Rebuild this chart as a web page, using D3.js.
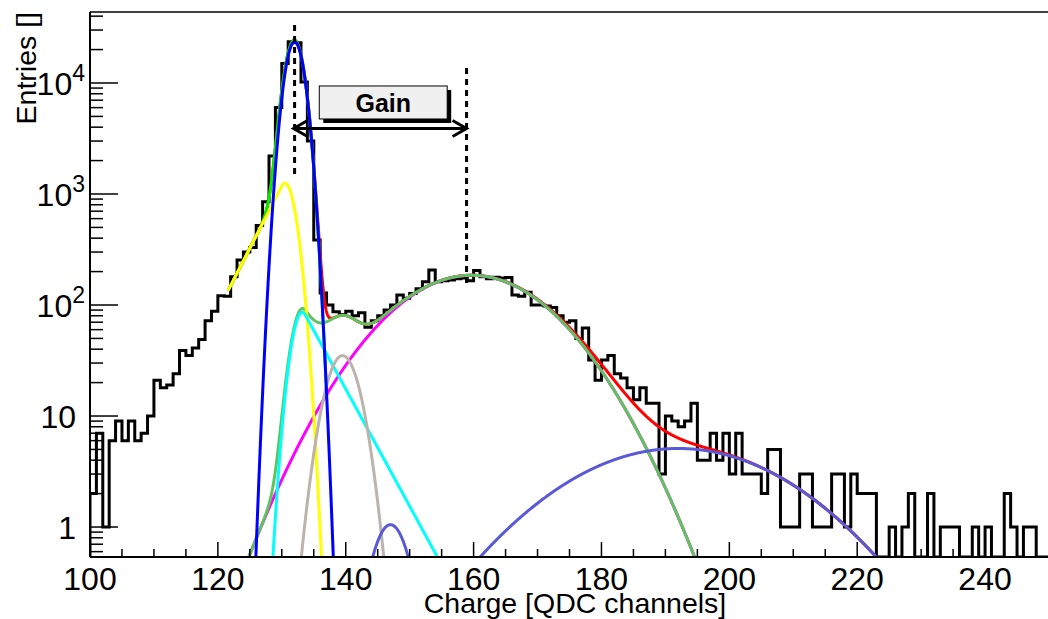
<!DOCTYPE html>
<html><head><meta charset="utf-8">
<script src="https://cdn.jsdelivr.net/npm/d3@7"></script>
<style>
body{margin:0;background:#fff}
svg{display:block}
text{font-family:"Liberation Sans",Arial,Helvetica,sans-serif}
</style>
</head><body>
<svg id="c" width="1048" height="619"></svg>
<script>
// ---- data ----
const binStart = 100;
const binWidth = 1;
const counts = [
 2,7,1,6,9,6,9,6,7,10,            // 100-109
 21,18,19,24,39,35,41,49,72,88,   // 110-119
 121,120,180,255,300,330,520,850,2200,6000, // 120-129
 15000,23500,23000,10200,3000,385,128,100,87,82, // 130-139
 88,80,85,63,72,80,90,100,123,115, // 140-149
 127,140,162,207,162,165,168,172,175,165, // 150-159
 205,180,172,178,175,177,123,120,130,100, // 160-169
 100,98,95,80,70,72,50,62,32,21,  // 170-179
 32,35,24,22,18,14,18,13,13,3,    // 180-189
 10,9,8,9,13,4,4,7,4,7,           // 190-199
 3,7,3,3,3,2,5,5,1,1,             // 200-209
 1,3,3,1,1,1,3,3,1,3,             // 210-219
 2,2,2,0,0,1,0,1,2,0,             // 220-229
 0,2,0,1,1,1,0,0,1,0,             // 230-239
 1,0,0,2,1,0,1,1,0,0              // 240-249
];
const xTickValues = [100,120,140,160,180,200,220,240];
const yTickValues = [1,10,100,1000,10000];
const yTickLabels = ["1","10","10|2","10|3","10|4"];
const xTitle = "Charge [QDC channels]";
const yTitle = "Entries []";
const boxLabel = "Gain";

// fit components (amplitude, mean, sigma, tail)
const pedestalFit = [23500, 132.0, 1.31];
const yellowFit   = [1250, 130.5, 1.45, 0.374];
const cyanFit     = [86, 133.2, 1.44, 0.35];
const grayFit     = [35, 139.5, 2.23];
const magentaFit  = [185, 159.7, 10.2];
const smallPeFit  = [1.05, 147.0, 2.4];
const twoPeFit    = [5.1, 192.0, 14.6];
const fitStart = 121.6;
const pedestalPeak = 132.0;
const onePePeak = 158.9;

// ---- layout ----
const W = 1048, H = 619;
const L = 90, R = 1049, T = 12, B = 557;
const svg = d3.select("#c");
const x = d3.scaleLinear().domain([100,250]).range([L,R]);
const y = d3.scaleLog().domain([0.537, 43600]).range([B,T]);

svg.append("defs").append("clipPath").attr("id","plot")
  .append("rect").attr("x",L).attr("y",T).attr("width",R-L).attr("height",B-T);

// ---- functions ----
const g = (v,[A,m,s]) => A*Math.exp(-0.5*((v-m)/s)**2);
const gRightTail = (v,[A,m,s,k]) => { const t=(v-m)/s; return A*(t<=k?Math.exp(-t*t/2):Math.exp(k*k/2-k*t)); };
const gLeftTail  = (v,[A,m,s,k]) => { const t=(v-m)/s; return A*(t>=-k?Math.exp(-t*t/2):Math.exp(k*k/2+k*t)); };
const fBlue = v => g(v,pedestalFit);
const fYellow = v => gLeftTail(v,yellowFit);
const fCyan = v => gRightTail(v,cyanFit);
const fGray = v => g(v,grayFit);
const fMag = v => g(v,magentaFit);
const fSmall = v => g(v,smallPeFit);
const fTwo = v => g(v,twoPeFit);
const fGreen2 = v => fCyan(v)+fGray(v)+fMag(v)+fSmall(v);
const fGreen1 = v => fBlue(v)+fYellow(v);
const fRed = v => fGreen1(v)+fGreen2(v)+fTwo(v);

function curve(f, a, b, color, w){
  const pts = d3.range(a, b+0.0001, 0.05).map(v => [x(v), y(Math.max(f(v),1e-4))]);
  svg.append("path").attr("clip-path","url(#plot)")
    .attr("d", d3.line()(pts)).attr("fill","none")
    .attr("stroke",color).attr("stroke-width",w).attr("stroke-linejoin","round");
}

// ---- histogram ----
const hpts = [[x(binStart), y(y.domain()[0])]];
counts.forEach((c,i) => {
  const lo = binStart + i*binWidth, hi = lo + binWidth;
  const v = Math.max(c, y.domain()[0]);
  hpts.push([x(lo), y(v)], [x(hi), y(v)]);
});
hpts.push([x(binStart+counts.length*binWidth), y(y.domain()[0])]);
svg.append("path").attr("d", d3.line()(hpts)).attr("fill","none")
  .attr("stroke","#000").attr("stroke-width",3).attr("clip-path","url(#plot)");

// ---- fit curves ----
curve(fRed, fitStart, 250, "#ff0000", 3);
curve(fGreen1, fitStart, 137, "#00ee00", 3);
curve(fMag, 110, 250, "#ff00ff", 3);
curve(fGreen2, 110, 250, "#5fc35f", 3);
curve(fYellow, fitStart, 145, "#ffff00", 3);
curve(fCyan, 110, 250, "#00ffff", 3);
curve(fGray, 110, 250, "#bcb4ac", 3);
curve(fSmall, 110, 250, "#5a5ad8", 3);
curve(fTwo, 110, 250, "#5a5ad8", 3);
curve(fBlue, 110, 250, "#0000ff", 3);

// ---- axes ----
const ax = svg.append("g");
ax.append("line").attr("x1",L).attr("x2",W).attr("y1",B).attr("y2",B).attr("stroke","#000").attr("stroke-width",2);
ax.append("line").attr("x1",L).attr("x2",L).attr("y1",T).attr("y2",B).attr("stroke","#000").attr("stroke-width",2);
ax.append("line").attr("x1",L).attr("x2",W).attr("y1",T).attr("y2",T).attr("stroke","#000").attr("stroke-width",1.5);

// x ticks
d3.range(100,251,5).forEach(v => {
  const major = v % 20 === 0;
  ax.append("line").attr("x1",x(v)).attr("x2",x(v)).attr("y1",B).attr("y2",B-(major?15:8))
    .attr("stroke","#000").attr("stroke-width",1.5);
});
xTickValues.forEach(v => {
  ax.append("text").attr("x",x(v)).attr("y",590).attr("text-anchor","middle")
    .attr("font-size",32).text(v);
});
ax.append("text").attr("x",575).attr("y",613).attr("text-anchor","middle")
  .attr("font-size",28.5).text(xTitle);

// y ticks
for (let d=-1; d<=4; d++){
  for (let m=1; m<=9; m++){
    const v = m*Math.pow(10,d);
    if (v < y.domain()[0] || v > y.domain()[1]) continue;
    ax.append("line").attr("x1",L).attr("x2",L+(m===1?28:13)).attr("y1",y(v)).attr("y2",y(v))
      .attr("stroke","#000").attr("stroke-width",1.5);
  }
}
yTickValues.forEach((v,i) => {
  const parts = yTickLabels[i].split("|");
  const t = ax.append("text").attr("y",y(v)+12).attr("font-size",32);
  if (parts.length === 1) {
    t.attr("x",76).attr("text-anchor","end").text(parts[0]);
  } else {
    t.attr("x",85).attr("text-anchor","end");
    t.append("tspan").text(parts[0]);
    t.append("tspan").attr("dy",-14).attr("font-size",23).text(parts[1]);
  }
});
ax.append("text").attr("transform",`translate(36,${T}) rotate(-90)`).attr("text-anchor","end")
  .attr("font-size",28.5).text(yTitle);

// ---- annotations ----
const ann = svg.append("g");
ann.append("line").attr("x1",x(pedestalPeak)).attr("x2",x(pedestalPeak))
  .attr("y1",y(33300)).attr("y2",y(1450)).attr("stroke","#000").attr("stroke-width",3).attr("stroke-dasharray","6,5");
ann.append("line").attr("x1",x(onePePeak)).attr("x2",x(onePePeak))
  .attr("y1",y(13650)).attr("y2",y(148)).attr("stroke","#000").attr("stroke-width",3).attr("stroke-dasharray","6,5");
const ay = y(3890), x0 = x(pedestalPeak)-1, x1 = x(onePePeak);
ann.append("line").attr("x1",x0).attr("x2",x1).attr("y1",ay).attr("y2",ay).attr("stroke","#000").attr("stroke-width",3);
ann.append("path").attr("d",`M${x0+14},${ay-8} L${x0},${ay} L${x0+14},${ay+8}`).attr("fill","none").attr("stroke","#000").attr("stroke-width",3);
ann.append("path").attr("d",`M${x1-14},${ay-8} L${x1},${ay} L${x1-14},${ay+8}`).attr("fill","none").attr("stroke","#000").attr("stroke-width",3);
const bx0 = x(135.86), bx1 = x(155.87), by0 = y(9400), by1 = y(4740);
ann.append("rect").attr("x",bx0+4).attr("y",by0+4).attr("width",bx1-bx0).attr("height",by1-by0).attr("fill","#000");
ann.append("rect").attr("x",bx0).attr("y",by0).attr("width",bx1-bx0).attr("height",by1-by0)
  .attr("fill","#f0f0f0").attr("stroke","#000").attr("stroke-width",1);
ann.append("text").attr("x",(bx0+bx1)/2).attr("y",by1-7).attr("text-anchor","middle")
  .attr("font-size",25).attr("font-weight","bold").text(boxLabel);
</script>
</body></html>
